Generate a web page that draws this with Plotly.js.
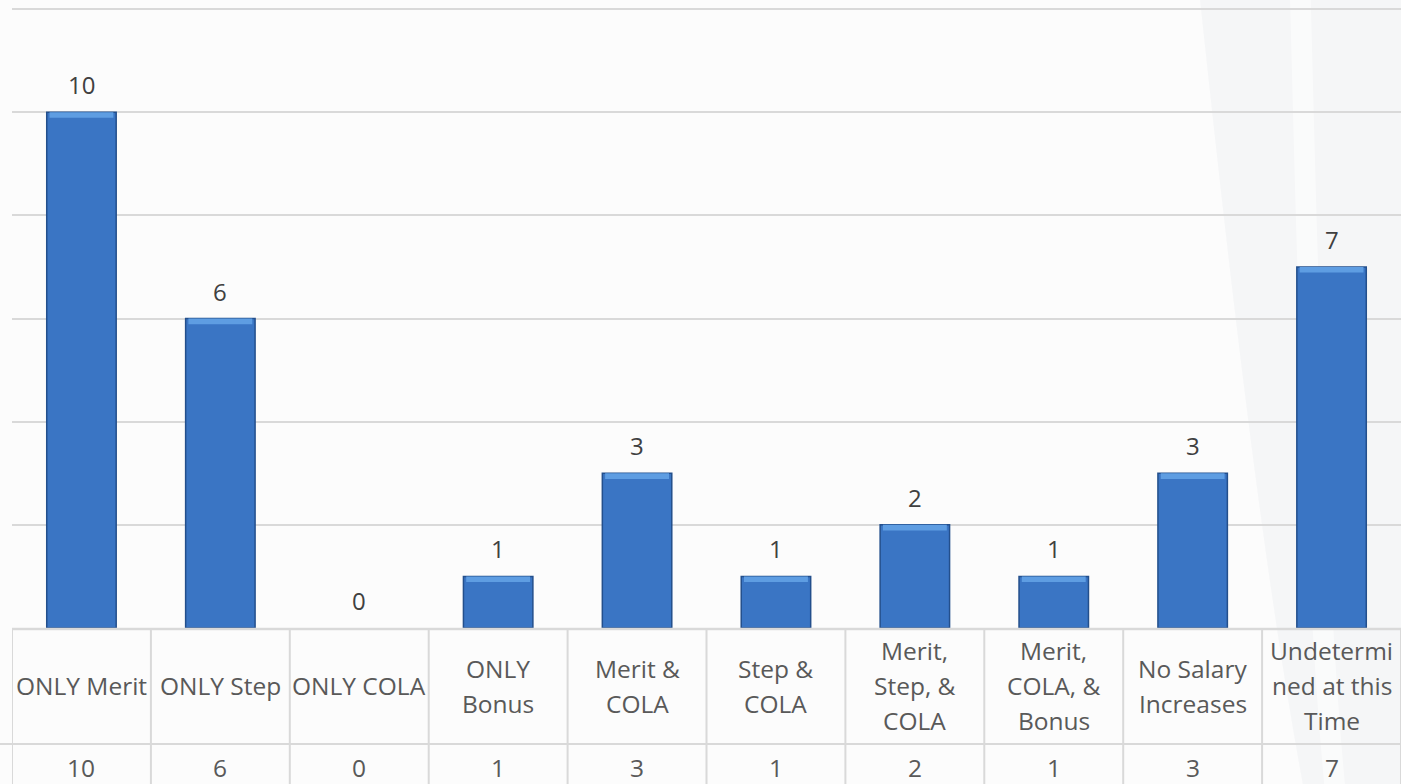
<!DOCTYPE html>
<html>
<head>
<meta charset="utf-8">
<script src="https://cdn.plot.ly/plotly-3.0.1.min.js"></script>
<style>
  html, body { margin: 0; padding: 0; background: #fcfcfc; }
  #chart { width: 1401px; height: 784px; }
</style>
</head>
<body>
<div id="chart"></div>
<script>
// Salary increase types: number of responses per category
const categories = [
  'ONLY Merit', 'ONLY Step', 'ONLY COLA', 'ONLY Bonus', 'Merit & COLA',
  'Step & COLA', 'Merit, Step, & COLA', 'Merit, COLA, & Bonus',
  'No Salary Increases', 'Undetermined at this Time'
];
// Wrapped header text for the data table under the bars
const tableLabels = [
  ['ONLY Merit'], ['ONLY Step'], ['ONLY COLA'], ['ONLY', 'Bonus'], ['Merit &', 'COLA'],
  ['Step &', 'COLA'], ['Merit,', 'Step, &', 'COLA'], ['Merit,', 'COLA, &', 'Bonus'],
  ['No Salary', 'Increases'], ['Undetermi', 'ned at this', 'Time']
];
const counts = [10, 6, 0, 1, 3, 1, 2, 1, 3, 7];

const W = 1401, H = 784;
const margin = { l: 12, r: 0, t: 8, b: 156 };
const plotH = H - margin.t - margin.b;           // 620 px
const pxToPaperY = px => (H - margin.b - px) / plotH;  // page pixel row -> paper y
const xIdx = categories.map((_, i) => i);

const font = 'Open Sans, Noto Sans, sans-serif';
const barColor = '#3a75c4';
const barEdge = '#234f8c';
const barShine = '#5e9de2';

// Main bars (no outline on empty categories)
const bars = {
  type: 'bar', x: xIdx, y: counts, width: 0.5,
  marker: { color: barColor, line: { color: barEdge, width: counts.map(v => (v > 0 ? 1.5 : 0)) } },
  hoverinfo: 'skip', showlegend: false
};
// Bevel highlight along the top edge of each bar
const shineH = 0.11;
const shine = {
  type: 'bar', x: xIdx,
  y: counts.map(v => (v > 0 ? shineH : 0)),
  base: counts.map(v => v - shineH),
  width: 0.46,
  marker: { color: barShine, line: { width: 0 } },
  hoverinfo: 'skip', showlegend: false
};

const annotations = [];
// Value labels above bars
counts.forEach((v, i) => {
  annotations.push({
    x: i, y: v, xref: 'x', yref: 'y', text: String(v), showarrow: false,
    yanchor: 'bottom', yshift: 9,
    font: { family: font, size: 24, color: '#404040' }
  });
});

// Data table: header row and value row
const headerTop = 629, headerBottom = 744, valueRowCenter = 767;
const headerCenter = (headerTop + headerBottom) / 2 - 1;
const lineGap = 35;
const cellFont = { family: font, size: 24.5, color: '#595959' };
tableLabels.forEach((lines, i) => {
  const n = lines.length;
  lines.forEach((ln, k) => {
    annotations.push({
      x: i, y: pxToPaperY(headerCenter), xref: 'x', yref: 'paper',
      text: ln, showarrow: false, yanchor: 'middle',
      yshift: ((n - 1) / 2 - k) * lineGap,
      font: cellFont
    });
  });
  annotations.push({
    x: i, y: pxToPaperY(valueRowCenter), xref: 'x', yref: 'paper',
    text: String(counts[i]), showarrow: false, yanchor: 'middle',
    font: cellFont
  });
});

const gridColor = '#d9d9d9';
const shapes = [];
// soft background sweep on the right
shapes.push({
  type: 'path', xref: 'paper', yref: 'paper', layer: 'below',
  path: 'M 0.855 1.02 C 0.875 0.6, 0.90 0.1, 0.93 -0.26 L 1.0 -0.26 L 1.0 1.02 Z',
  fillcolor: 'rgba(236,238,241,0.4)', line: { width: 0 }
});
shapes.push({
  type: 'path', xref: 'paper', yref: 'paper', layer: 'below',
  path: 'M 0.92 1.02 C 0.925 0.6, 0.93 0.1, 0.945 -0.26 L 0.96 -0.26 C 0.945 0.1, 0.94 0.6, 0.935 1.02 Z',
  fillcolor: 'rgba(255,255,255,0.5)', line: { width: 0 }
});
// table column borders
for (let i = 0; i <= categories.length; i++) {
  shapes.push({
    type: 'line', xref: 'x', yref: 'paper',
    x0: i - 0.5, x1: i - 0.5, y0: pxToPaperY(headerTop), y1: pxToPaperY(H + 10),
    line: { color: gridColor, width: 2 }
  });
}
// table top border and row separator
shapes.push({
  type: 'line', xref: 'x', yref: 'paper',
  x0: -0.5, x1: categories.length - 0.5, y0: pxToPaperY(headerTop), y1: pxToPaperY(headerTop),
  line: { color: gridColor, width: 2.5 }
});
shapes.push({
  type: 'line', xref: 'paper', yref: 'paper',
  x0: -margin.l / (W - margin.l - margin.r), x1: 1, y0: pxToPaperY(headerBottom), y1: pxToPaperY(headerBottom),
  line: { color: gridColor, width: 2 }
});

const layout = {
  width: W, height: H, margin: margin,
  paper_bgcolor: '#fcfcfc', plot_bgcolor: 'rgba(0,0,0,0)',
  barmode: 'overlay', bargap: 0.5,
  xaxis: {
    range: [-0.5, categories.length - 0.5], showticklabels: false,
    showgrid: false, zeroline: false, showline: false, ticks: '', fixedrange: true
  },
  yaxis: {
    range: [0, 12.02], tick0: 0, dtick: 2, showticklabels: false, ticks: '',
    showgrid: true, gridcolor: gridColor, gridwidth: 2,
    zeroline: false, showline: false, fixedrange: true
  },
  annotations: annotations, shapes: shapes, showlegend: false
};

Plotly.newPlot('chart', [bars, shine], layout, { displayModeBar: false, staticPlot: true });
</script>
</body>
</html>
